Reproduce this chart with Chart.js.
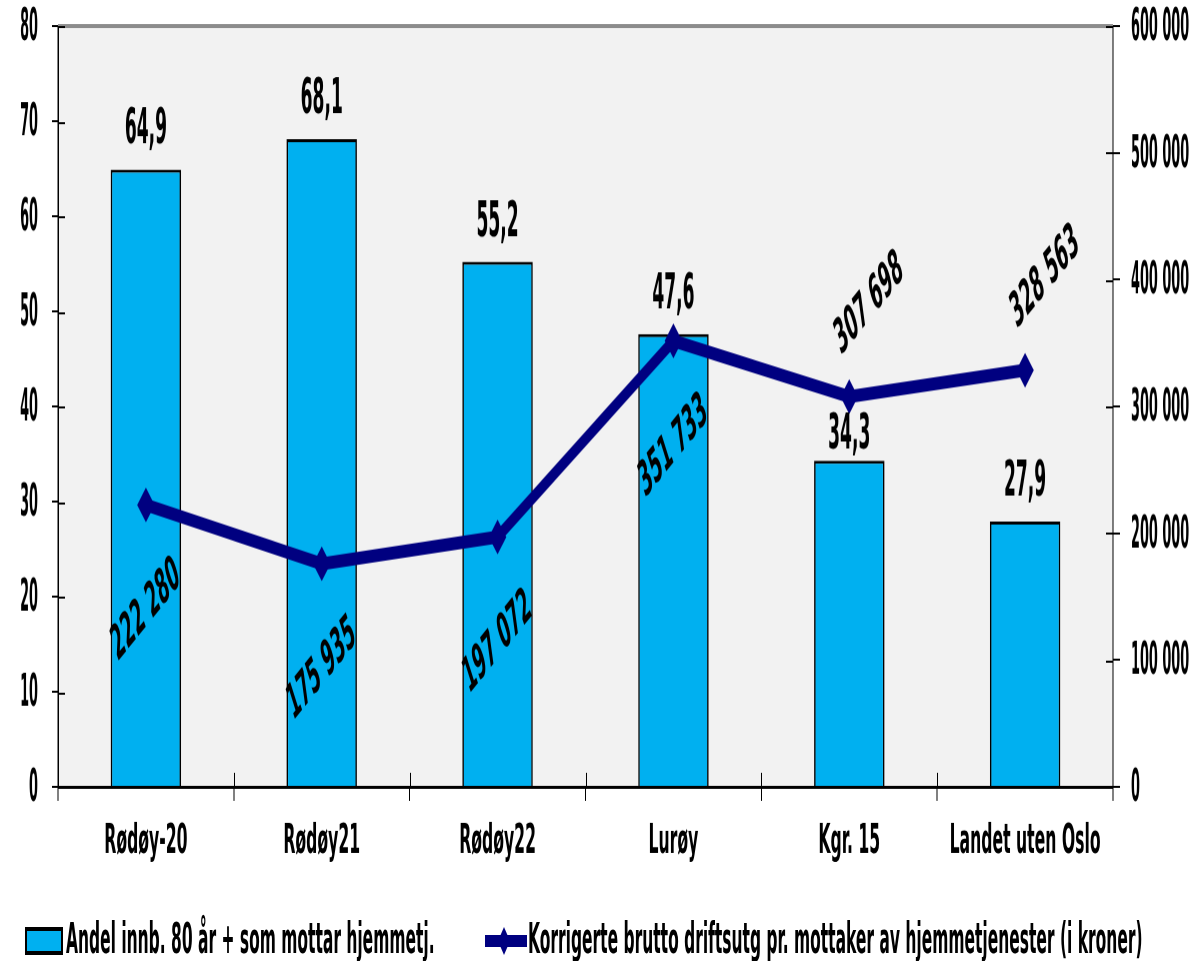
<!DOCTYPE html>
<html>
<head>
<meta charset="utf-8">
<script src="https://cdn.jsdelivr.net/npm/chart.js@4/dist/chart.umd.min.js"></script>
<style>
    html, body { margin: 0; padding: 0; background: #fff; overflow: hidden; }
    /* the reference is stretched vertically about 2x, so the chart is drawn at half height and scaled up */
    #chart { width: 1196px !important; height: 961px !important; display: block; }
</style>
</head>
<body>
<canvas id="chart" width="1196" height="480"></canvas>
<script>
var categories = ["Rødøy-20", "Rødøy21", "Rødøy22", "Lurøy", "Kgr. 15", "Landet uten Oslo"];
var andelValues = [64.9, 68.1, 55.2, 47.6, 34.3, 27.9];
var utgiftValues = [222280, 175935, 197072, 351733, 307698, 328563];
var andelLabel = "Andel innb. 80 år + som mottar hjemmetj.";
var utgiftLabel = "Korrigerte brutto driftsutg pr. mottaker av hjemmetjenester (i kroner)";
var leftTicks = [0, 10, 20, 30, 40, 50, 60, 70, 80];
var rightTicks = [0, 100000, 200000, 300000, 400000, 500000, 600000];

var FONT = "'DejaVu Sans Condensed', 'DejaVu Sans', sans-serif";
var BAR_COLOR = "#00B0F0";
var LINE_COLOR = "#000080";

function spaced(v) {
    // 600000 -> "600 000"
    return String(v).replace(/\B(?=(\d{3})+(?!\d))/g, " ");
}
function comma(v) {
    return v.toFixed(1).replace(".", ",");
}

// narrow text: squeeze horizontally like the Arial Narrow in the original
function drawText(ctx, text, x, y, size, sx, align, baseline, angle) {
    ctx.save();
    ctx.translate(x, y);
    if (angle) ctx.rotate(angle);
    ctx.scale(sx, 1);
    ctx.font = "bold " + size + "px " + FONT;
    ctx.fillStyle = "#000";
    ctx.textAlign = align;
    ctx.textBaseline = baseline;
    ctx.fillText(text, 0, 0);
    ctx.restore();
}

var framePlugin = {
    id: "frame",
    beforeDraw: function (chart) {
        var a = chart.chartArea, ctx = chart.ctx;
        ctx.save();
        ctx.fillStyle = "#F2F2F2";
        ctx.fillRect(a.left, a.top, a.right - a.left, a.bottom - a.top);
        ctx.restore();
    },
    afterDraw: function (chart) {
        var a = chart.chartArea, ctx = chart.ctx;
        var y = chart.scales.y, y1 = chart.scales.y1, x = chart.scales.x;
        ctx.save();
        // grey top edge
        ctx.strokeStyle = "#8C8C8C";
        ctx.lineWidth = 2;
        ctx.beginPath();
        ctx.moveTo(a.left, a.top);
        ctx.lineTo(a.right, a.top);
        ctx.stroke();
        // inner halves of the crossing tick marks
        ctx.strokeStyle = "#000";
        ctx.lineWidth = 1;
        ctx.beginPath();
        leftTicks.forEach(function (v) {
            var p = Math.round(y.getPixelForValue(v)) + 0.5;
            ctx.moveTo(a.left, p); ctx.lineTo(a.left + 7, p);
        });
        rightTicks.forEach(function (v) {
            var p = Math.round(y1.getPixelForValue(v)) + 0.5;
            ctx.moveTo(a.right - 7, p); ctx.lineTo(a.right, p);
        });
        var step = (a.right - a.left) / categories.length;
        for (var i = 1; i < categories.length; i++) {
            var px = Math.round(a.left + i * step) + 0.5;
            ctx.moveTo(px, a.bottom - 7); ctx.lineTo(px, a.bottom);
        }
        ctx.stroke();
        ctx.restore();

        // axis labels
        leftTicks.forEach(function (v) {
            drawText(ctx, String(v), a.left - 20, y.getPixelForValue(v) + 7, 22, 0.65, "right", "alphabetic");
        });
        rightTicks.forEach(function (v) {
            drawText(ctx, spaced(v), a.right + 18, y1.getPixelForValue(v) + 7, 22, 0.65, "left", "alphabetic");
        });
        categories.forEach(function (c, i) {
            drawText(ctx, c, x.getPixelForValue(i), a.bottom + 33, 20, 0.87, "center", "alphabetic");
        });
    }
};

var valueLabelPlugin = {
    id: "valueLabels",
    afterDatasetsDraw: function (chart) {
        var ctx = chart.ctx;
        var points = chart.getDatasetMeta(1).data;
        chart.getDatasetMeta(0).data.forEach(function (bar, i) {
            // move the label closer to the bar when the line marker sits just above it
            var gap = (bar.y - points[i].y > 0 && bar.y - points[i].y < 45) ? 6 : 13;
            drawText(ctx, comma(andelValues[i]), bar.x, bar.y - gap, 25, 0.76, "center", "alphabetic");
        });
        points.forEach(function (pt, i) {
            var above = i >= 4;
            drawText(ctx, spaced(utgiftValues[i]), pt.x + (above ? 20 : 0), pt.y + (above ? -46 : 53),
                25, 0.74, "center", "middle", -32 * Math.PI / 180);
        });
    }
};

var legendPlugin = {
    id: "customLegend",
    afterDraw: function (chart) {
        var ctx = chart.ctx, y = 470;
        ctx.save();
        ctx.fillStyle = BAR_COLOR;
        ctx.strokeStyle = "#000";
        ctx.lineWidth = 2;
        ctx.fillRect(26, y - 6, 36, 12);
        ctx.strokeRect(26, y - 6, 36, 12);
        ctx.strokeStyle = LINE_COLOR;
        ctx.lineWidth = 6;
        ctx.beginPath();
        ctx.moveTo(485, y); ctx.lineTo(527, y);
        ctx.stroke();
        ctx.fillStyle = LINE_COLOR;
        ctx.beginPath();
        ctx.moveTo(504, y - 7); ctx.lineTo(510, y); ctx.lineTo(504, y + 7); ctx.lineTo(498, y);
        ctx.closePath();
        ctx.fill();
        ctx.restore();
        drawText(ctx, andelLabel, 66, y + 6, 21, 0.82, "left", "alphabetic");
        drawText(ctx, utgiftLabel, 528, y + 6, 21, 0.82, "left", "alphabetic");
    }
};

new Chart(document.getElementById("chart"), {
    type: "bar",
    data: {
        labels: categories,
        datasets: [
            {
                label: andelLabel,
                data: andelValues,
                backgroundColor: BAR_COLOR,
                borderColor: "#000",
                borderWidth: 1.5,
                barPercentage: 0.4,
                categoryPercentage: 1,
                yAxisID: "y",
                order: 1,
            },
            {
                type: "line",
                label: utgiftLabel,
                data: utgiftValues,
                borderColor: LINE_COLOR,
                backgroundColor: LINE_COLOR,
                borderWidth: 6.5,
                pointStyle: "rectRot",
                pointRadius: 8,
                pointBorderWidth: 1,
                pointBackgroundColor: LINE_COLOR,
                pointBorderColor: LINE_COLOR,
                tension: 0,
                yAxisID: "y1",
                order: 0,
            },
        ],
    },
    options: {
        responsive: false,
        devicePixelRatio: 2,
        animation: false,
        layout: { padding: { top: 13, left: 0, right: 0, bottom: 0 } },
        plugins: {
            legend: { display: false },
            tooltip: { enabled: false },
        },
        scales: {
            x: {
                grid: { offset: true, drawOnChartArea: false, tickLength: 7, color: "#000", lineWidth: 1 },
                border: { color: "#000", width: 1.5 },
                ticks: { display: false, autoSkip: false },
                afterFit: function (s) { s.height = 87; },
            },
            y: {
                position: "left",
                min: 0,
                max: 80,
                ticks: { display: false, stepSize: 10 },
                grid: { drawOnChartArea: false, tickLength: 6, color: "#000" },
                border: { color: "#000", width: 1.5 },
                afterFit: function (s) { s.width = 58; },
            },
            y1: {
                position: "right",
                min: 0,
                max: 600000,
                ticks: { display: false, stepSize: 100000 },
                grid: { drawOnChartArea: false, tickLength: 7, color: "#000" },
                border: { color: "#000", width: 1 },
                afterFit: function (s) { s.width = 83; },
            },
        },
    },
    plugins: [framePlugin, valueLabelPlugin, legendPlugin],
});
</script>
</body>
</html>
